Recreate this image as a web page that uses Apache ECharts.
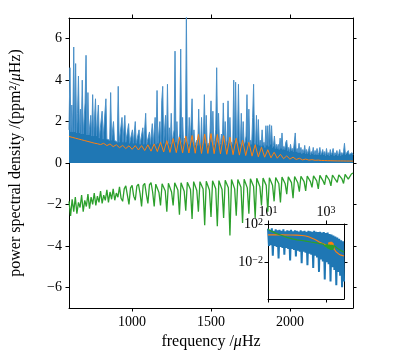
<!DOCTYPE html>
<html>
<head>
<meta charset="utf-8">
<script src="https://cdn.jsdelivr.net/npm/echarts@6/dist/echarts.min.js"></script>
<style>
  html, body { margin: 0; padding: 0; background: #fff; }
  #chart { width: 415px; height: 363px; }
</style>
</head>
<body>
<div id="chart"></div>
<script>
// observed power spectrum (ppm^2/uHz), one value every 6 uHz from 600 uHz
const psdStart = 600;
const psdStep = 6;
const psd = [
  1.6, 4.6, 1.5, 2.8, 1.5, 5.6, 1.5, 4.8, 1.45, 2.4,
  4.2, 1.45, 2.6, 1.4, 4.0, 1.4, 1.35, 2.9, 5.2, 1.35,
  3.4, 1.35, 1.35, 2.3, 1.3, 3.3, 1.3, 1.3, 3.1, 1.3,
  1.25, 2.8, 1.2, 1.15, 1.2, 2.5, 1.15, 1.2, 1.1, 3.1,
  1.15, 1.1, 1.15, 1.1, 3.4, 1.1, 1.05, 2.0, 1.1, 1.05,
  1.1, 1.0, 3.7, 1.0, 1.05, 1.0, 2.2, 1.0, 1.05, 2.3,
  1.0, 0.95, 1.0, 1.9, 0.95, 1.0, 0.95, 1.6, 0.95, 1.0,
  2.0, 0.95, 0.9, 0.95, 1.6, 0.9, 0.95, 0.9, 1.7, 0.9,
  0.95, 2.4, 0.9, 0.95, 0.9, 1.5, 0.9, 0.95, 1.9, 0.9,
  0.95, 2.2, 0.9, 3.5, 0.95, 0.9, 2.0, 0.9, 3.0, 3.7,
  0.95, 0.9, 2.3, 0.9, 3.8, 0.95, 1.7, 0.9, 2.4, 0.95,
  1.0, 1.6, 5.4, 1.0, 2.0, 0.9, 0.95, 1.4, 5.5, 1.0,
  2.2, 0.9, 1.2, 1.0, 7.3, 1.1, 0.9, 2.2, 0.9, 0.95,
  3.1, 1.0, 1.6, 0.85, 0.9, 1.1, 0.85, 2.6, 1.0, 0.85,
  2.2, 0.85, 1.2, 3.3, 0.95, 2.3, 0.85, 0.95, 0.85, 1.5,
  3.0, 1.0, 2.5, 0.85, 1.1, 1.6, 4.6, 1.0, 2.4, 0.85,
  0.95, 1.4, 0.9, 2.9, 1.0, 2.0, 0.85, 1.1, 3.0, 0.95,
  2.2, 0.85, 1.0, 0.9, 4.0, 1.1, 3.9, 0.95, 1.4, 3.8,
  1.1, 0.9, 2.4, 0.85, 2.0, 0.9, 1.0, 1.3, 3.3, 0.95,
  2.6, 0.85, 1.1, 0.9, 2.2, 3.8, 1.0, 0.85, 2.3, 0.9,
  2.1, 0.85, 1.1, 0.8, 1.6, 0.85, 1.0, 0.75, 1.8, 0.85,
  1.8, 0.8, 1.85, 0.9, 1.8, 0.75, 0.85, 1.3, 0.7, 0.9,
  0.7, 0.9, 0.65, 1.2, 0.7, 1.45, 0.65, 0.8, 0.65, 1.0,
  1.1, 0.6, 0.75, 0.55, 0.9, 0.6, 0.7, 0.55, 1.0, 1.45,
  0.55, 0.7, 0.5, 0.95, 0.5, 0.75, 0.45, 0.65, 0.5, 0.85,
  0.45, 0.65, 0.45, 0.6, 0.8, 0.4, 0.55, 0.45, 0.75, 0.4,
  0.6, 0.4, 0.7, 0.4, 0.5, 0.75, 0.4, 0.5, 0.65, 0.4,
  0.55, 0.35, 0.7, 0.4, 0.5, 0.35, 0.65, 0.4, 0.5, 0.7,
  0.35, 0.5, 0.4, 0.6, 0.35, 0.45, 0.65, 0.35, 0.5, 0.4,
  0.55, 0.95, 0.4, 0.45, 0.35, 0.6, 0.4, 0.45, 0.35, 0.5,
  0.4
];

// fitted model, every 20 uHz from 600 uHz
const modelStart = 600;
const modelStep = 20;
const model = [
  1.28, 1.24, 1.20, 1.16, 1.12, 1.08, 1.04, 1.00, 0.96, 0.93,
  0.89, 0.95, 0.84, 0.92, 0.79, 0.88, 0.74, 0.85, 0.70, 0.83,
  0.66, 0.84, 0.63, 0.84, 0.60, 0.88, 0.57, 0.92, 0.55, 1.00,
  0.53, 1.08, 0.51, 1.18, 0.50, 1.25, 0.49, 1.30, 0.48, 1.33,
  0.47, 1.38, 0.46, 1.40, 0.46, 1.42, 0.45, 1.38, 0.44, 1.32,
  0.42, 1.25, 0.40, 1.20, 0.38, 1.10, 0.36, 1.00, 0.33, 0.88,
  0.30, 0.76, 0.28, 0.64, 0.25, 0.52, 0.23, 0.42, 0.21, 0.34,
  0.19, 0.28, 0.17, 0.23, 0.15, 0.19, 0.14, 0.16, 0.13, 0.14,
  0.12, 0.12, 0.11, 0.11, 0.105, 0.10, 0.10, 0.10, 0.095, 0.095,
  0.09
];

// lower (mirrored) spectrum, every 10 uHz from 600 uHz
const lowerStart = 600;
const lowerStep = 10;
const lower = [
  -1.85, -2.55, -1.75, -2.35, -1.65, -2.45, -1.9, -2.15,
  -1.55, -2.35, -1.8, -2.1, -1.5, -2.2, -1.65, -2.0,
  -1.45, -2.05, -1.6, -1.9, -1.35, -1.95, -1.55, -1.8,
  -1.3, -1.9, -1.4, -1.75, -1.25, -1.8, -1.45, -1.65,
  -1.15, -1.7, -1.85, -1.25, -1.1, -1.55, -2.0, -1.2,
  -1.08, -1.6, -1.8, -1.12, -1.02, -1.45, -2.1, -1.08,
  -0.98, -1.5, -1.95, -1.05, -0.95, -1.4, -2.1, -1.02,
  -0.94, -1.42, -2.05, -1.0, -0.92, -1.35, -2.35, -0.98,
  -0.9, -1.4, -2.05, -0.96, -0.9, -1.3, -2.5, -0.95,
  -0.86, -1.36, -2.3, -0.93, -0.86, -1.28, -2.7, -0.9,
  -0.84, -1.33, -2.35, -0.9, -0.82, -1.26, -3.0, -0.88,
  -0.8, -1.3, -2.6, -0.86, -0.8, -1.24, -3.05, -0.85,
  -0.77, -1.28, -2.65, -0.83, -0.75, -1.2, -3.5, -0.8,
  -0.74, -1.25, -2.55, -0.8, -0.72, -1.17, -2.9, -0.78,
  -0.71, -1.2, -2.45, -0.76, -0.7, -1.14, -2.65, -0.74,
  -0.69, -1.15, -2.05, -0.73, -0.67, -1.08, -2.35, -0.71,
  -0.66, -1.08, -1.85, -0.7, -0.64, -1.0, -1.9, -0.68,
  -0.63, -1.0, -1.5, -0.67, -0.61, -0.95, -1.7, -0.65,
  -0.6, -0.95, -1.38, -0.64, -0.59, -0.9, -1.35, -0.63,
  -0.58, -0.9, -1.18, -0.62, -0.57, -0.86, -1.25, -0.6,
  -0.56, -0.86, -1.05, -0.59, -0.55, -0.82, -1.1, -0.58,
  -0.53, -0.82, -0.93, -0.57, -0.52, -0.77, -0.99, -0.55,
  -0.5, -0.78, -0.86, -0.53, -0.48
];

// inset: log10 of the full spectrum, log-spaced from 10 to 4167 uHz
const insetFmin = 10;
const insetFmax = 4167;
const insetPsdLog = [
  1.5, -0.3, 1.4, -0.2, 1.55, -1.3, 1.3, -0.3, 1.45, -0.4,
  1.35, -1.6, 1.4, -0.4, 1.3, -0.5, 1.45, -1.2, 1.25, -0.5,
  1.35, -0.6, 1.3, -1.8, 1.4, -0.6, 1.25, -0.7, 1.35, -1.4,
  1.3, -0.8, 1.2, -0.9, 1.35, -2.1, 1.25, -0.9, 1.3, -1.0,
  1.2, -2.3, 1.3, -1.1, 1.25, -1.2, 1.2, -2.6, 1.3, -1.3,
  1.2, -1.5, 1.15, -3.0, 1.2, -1.7, 1.1, -1.9, 1.15, -3.8,
  1.05, -2.0, 1.1, -2.2, 0.95, -4.0, 0.9, -2.5, 0.8, -2.8,
  0.7, -4.4, 0.6, -3.0, 0.45, -3.4, 0.3, -4.6, 0.2, -4.0
];
const insetModelFreq = [10, 30, 60, 100, 150, 200, 250, 300, 400, 500, 600, 700, 800, 900, 1000,
  1050, 1100, 1150, 1200, 1250, 1300, 1350, 1400, 1450, 1500, 1550, 1600, 1650, 1700, 1750, 1800, 1850, 1900,
  2000, 2200, 2400, 2800, 3300, 4167];
const insetModelLog = [0.86, 0.86, 0.85, 0.84, 0.8, 0.75, 0.66, 0.57, 0.4, 0.25, 0.1, 0.0, -0.06, -0.12, -0.2,
  -0.1, -0.25, 0.0, -0.3, 0.08, -0.31, 0.12, -0.32, 0.14, -0.34, 0.14, -0.36, 0.08, -0.42, 0.0, -0.5, -0.2, -0.6,
  -0.7, -0.9, -1.0, -1.15, -1.25, -1.35];
const insetLowerFreq = [10, 14, 20, 30, 45, 70, 100, 150, 200, 300, 400, 500, 600, 700, 800, 900,
  950, 1000, 1050, 1100, 1150, 1200, 1250, 1300, 1350, 1400, 1450, 1500, 1550, 1600, 1650, 1700, 1750, 1800, 1850, 1900,
  2000, 2200, 2500, 3000, 3500, 4167];
const insetLowerLog = [1.45, 1.2, 1.0, 0.8, 0.6, 0.45, 0.35, 0.28, 0.22, 0.12, 0.06, 0.0, -0.05, -0.08, -0.1, -0.12,
  -0.35, -0.12, -0.45, -0.13, -0.55, -0.14, -0.6, -0.15, -0.65, -0.16, -0.7, -0.17, -0.72, -0.18, -0.7, -0.2, -0.6, -0.22, -0.5, -0.25,
  -0.35, -0.45, -0.55, -0.7, -0.8, -0.95];

const xTicks = [1000, 1500, 2000];
const yTicks = [-6, -4, -2, 0, 2, 4, 6];
const insetXTicks = [10, 1000];
const insetYTicks = [1e-2, 1e2];

const blue = '#1f77b4';
const blueEdge = '#4a90c8';
const orange = '#ff7f0e';
const green = '#2ca02c';
const serif = '"Liberation Serif", "DejaVu Serif", serif';

const chart = echarts.init(document.getElementById('chart'));

function grid(start, step, vals) {
  return vals.map((v, i) => [start + i * step, v]);
}
function fromLog(freqs, logs) {
  return logs.map((v, i) => [freqs[i], Math.pow(10, v)]);
}
const insetPsdFreq = insetPsdLog.map((v, i) =>
  insetFmin * Math.pow(insetFmax / insetFmin, i / (insetPsdLog.length - 1)));

const minus = (v) => (v < 0 ? '\u2212' + (-v) : '' + v);
const supLabel = (v) => '{b|10}{s|' + minus(Math.round(Math.log10(v))) + '}';
const supRich = {
  b: { fontSize: 14, fontFamily: serif, color: '#000', lineHeight: 14, verticalAlign: 'bottom' },
  s: { fontSize: 10, fontFamily: serif, color: '#000', lineHeight: 10, verticalAlign: 'top', padding: [0, 0, 6, 0] }
};
const nameStyle = {
  fontSize: 16, fontFamily: serif, color: '#000',
  rich: { i: { fontSize: 16, fontFamily: serif, color: '#000', fontStyle: 'italic' } }
};

function axis(extra, ticks, labels) {
  return Object.assign({
    axisLine: { onZero: false, lineStyle: { color: '#000', width: 1 } },
    axisTick: { inside: false, length: 3.5, customValues: ticks, lineStyle: { color: '#000', width: 1 } },
    axisLabel: labels ? Object.assign({ customValues: ticks, color: '#000', fontSize: 14, fontFamily: serif, margin: 7 }, labels) : { show: false },
    splitLine: { show: false }
  }, extra);
}

const option = {
  animation: false,
  backgroundColor: '#fff',
  grid: [
    { left: 62, top: 18, width: 291, height: 290 },
    { left: 268, top: 224, width: 76, height: 75, show: true, backgroundColor: '#fff', borderWidth: 0 }
  ],
  xAxis: [
    axis({ type: 'value', gridIndex: 0, min: 600, max: 2400, position: 'bottom',
      name: 'frequency /{i|μ}Hz', nameLocation: 'middle', nameGap: 22, nameTextStyle: nameStyle },
      xTicks, { formatter: (v) => String(v) }),
    axis({ type: 'value', gridIndex: 0, min: 600, max: 2400, position: 'top' }, xTicks, null),
    axis({ type: 'log', gridIndex: 1, min: insetFmin, max: insetFmax, position: 'bottom' }, insetXTicks, null),
    axis({ type: 'log', gridIndex: 1, min: insetFmin, max: insetFmax, position: 'top' }, insetXTicks,
      { formatter: supLabel, rich: supRich, margin: 5 })
  ],
  yAxis: [
    axis({ type: 'value', gridIndex: 0, min: -7, max: 7, position: 'left',
      name: 'power spectral density /(ppm²/{i|μ}Hz)', nameLocation: 'middle', nameGap: 45, nameTextStyle: nameStyle },
      yTicks, { formatter: minus }),
    axis({ type: 'value', gridIndex: 0, min: -7, max: 7, position: 'right' }, yTicks, null),
    axis({ type: 'log', gridIndex: 1, min: Math.pow(10, -5.83), max: 100, position: 'left' }, insetYTicks,
      { formatter: supLabel, rich: supRich, margin: 5 }),
    axis({ type: 'log', gridIndex: 1, min: Math.pow(10, -5.83), max: 100, position: 'right' }, insetYTicks, null)
  ],
  series: [
    {
      type: 'line', xAxisIndex: 0, yAxisIndex: 0, data: grid(psdStart, psdStep, psd),
      showSymbol: false, lineStyle: { color: blueEdge, width: 1 }, areaStyle: { color: blue, opacity: 1 }, z: 2
    },
    {
      type: 'line', xAxisIndex: 0, yAxisIndex: 0, data: grid(modelStart, modelStep, model),
      showSymbol: false, lineStyle: { color: orange, width: 1 }, z: 3
    },
    {
      type: 'line', xAxisIndex: 0, yAxisIndex: 0, data: grid(lowerStart, lowerStep, lower),
      showSymbol: false, lineStyle: { color: green, width: 1.3 }, z: 3
    },
    {
      type: 'line', xAxisIndex: 2, yAxisIndex: 2, data: fromLog(insetPsdFreq, insetPsdLog),
      showSymbol: false, lineStyle: { color: blue, width: 2 }, z: 4
    },
    {
      type: 'line', xAxisIndex: 2, yAxisIndex: 2, data: fromLog(insetModelFreq, insetModelLog),
      showSymbol: false, lineStyle: { color: orange, width: 1.1 }, z: 5
    },
    {
      type: 'line', xAxisIndex: 2, yAxisIndex: 2, data: fromLog(insetLowerFreq, insetLowerLog),
      showSymbol: false, lineStyle: { color: green, width: 1.2 }, z: 5
    }
  ]
};
chart.setOption(option);
</script>
</body>
</html>
